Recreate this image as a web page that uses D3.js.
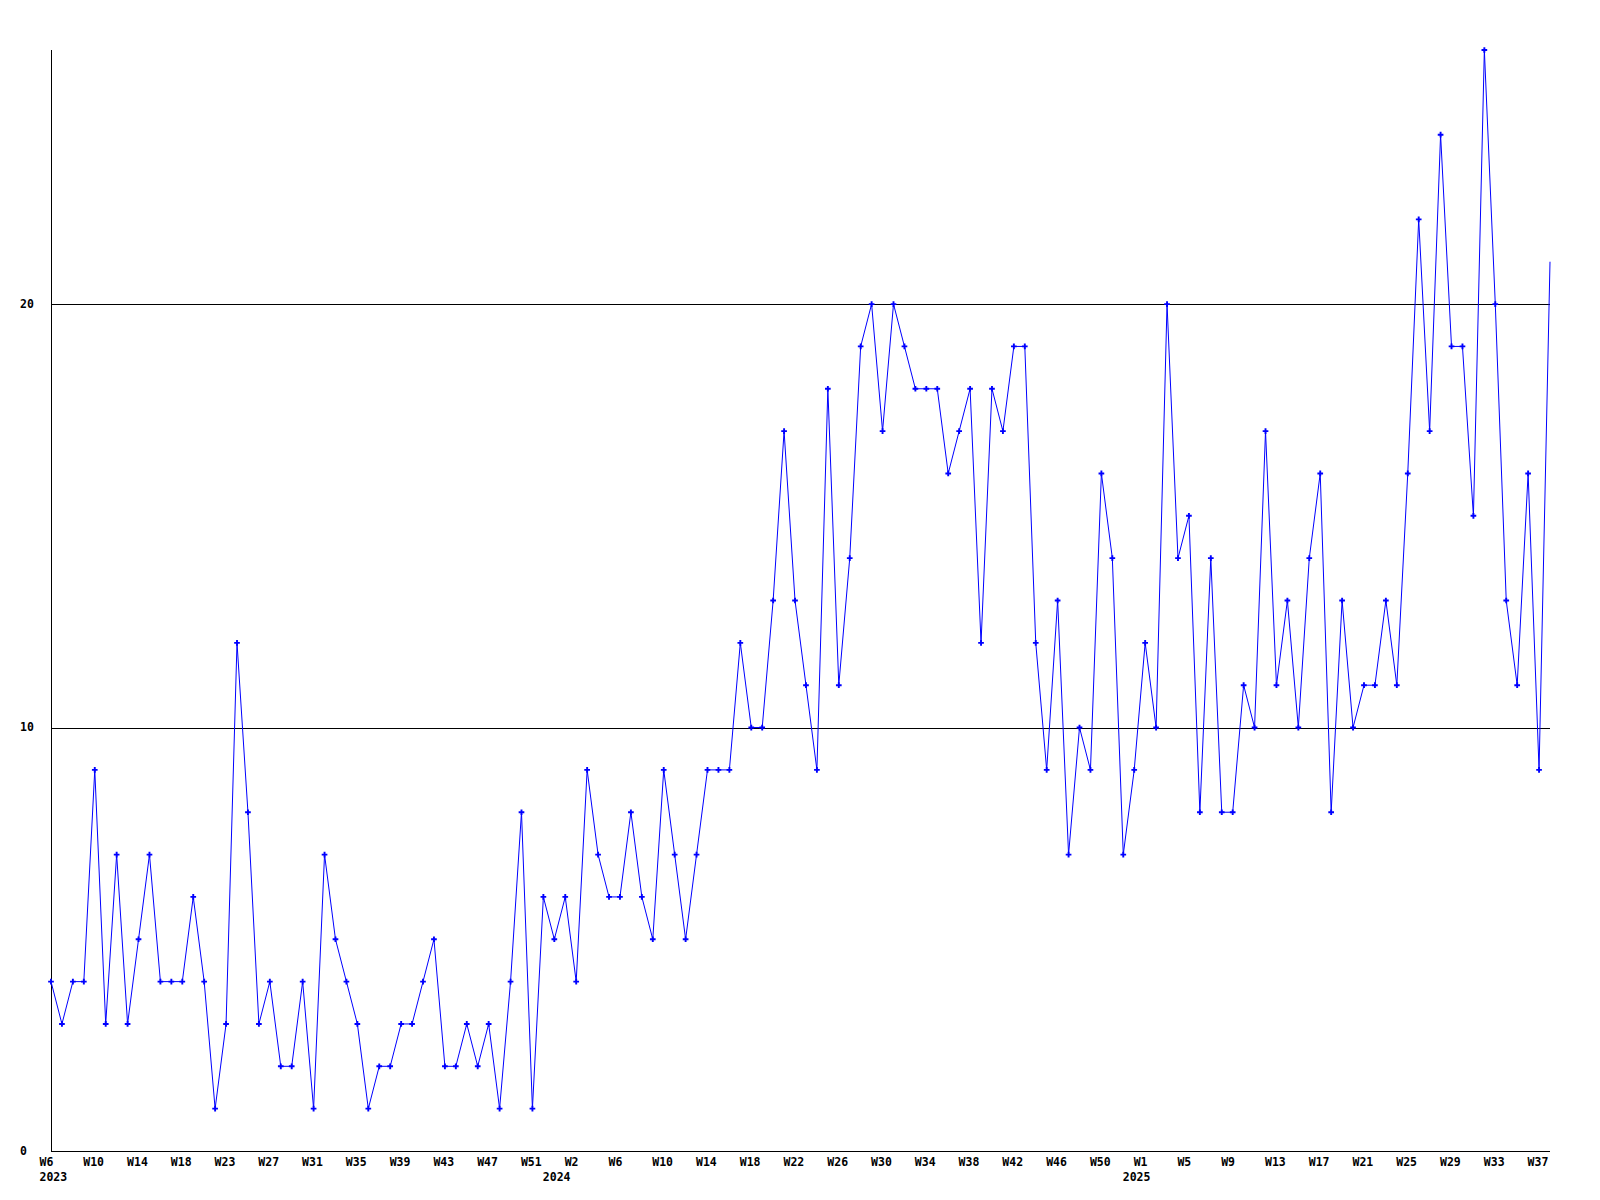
<!DOCTYPE html>
<html>
<head>
<meta charset="utf-8">
<script src="https://cdn.jsdelivr.net/npm/d3@7"></script>
<style>
  html, body { margin: 0; padding: 0; background: #ffffff; }
  svg { display: block; }
  text { font-family: "DejaVu Sans Mono", "Liberation Mono", monospace; font-weight: bold; font-size: 11.5px; fill: #000; }
</style>
</head>
<body>
<svg id="chart" width="1600" height="1200"></svg>
<script>
// Weekly values, one per week starting at W6 2023
const values = [
  4, 3, 4, 4, 9, 3, 7, 3, 5, 7,
  4, 4, 4, 6, 4, 1, 3, 12, 8, 3,
  4, 2, 2, 4, 1, 7, 5, 4, 3, 1,
  2, 2, 3, 3, 4, 5, 2, 2, 3, 2,
  3, 1, 4, 8, 1, 6, 5, 6, 4, 9,
  7, 6, 6, 8, 6, 5, 9, 7, 5, 7,
  9, 9, 9, 12, 10, 10, 13, 17, 13, 11,
  9, 18, 11, 14, 19, 20, 17, 20, 19, 18,
  18, 18, 16, 17, 18, 12, 18, 17, 19, 19,
  12, 9, 13, 7, 10, 9, 16, 14, 7, 9,
  12, 10, 20, 14, 15, 8, 14, 8, 8, 11,
  10, 17, 11, 13, 10, 14, 16, 8, 13, 10,
  11, 11, 13, 11, 16, 22, 17, 24, 19, 19,
  15, 26, 20, 13, 11, 16, 9, 21
];

// Week tick labels, shown every 4th week
const tickLabels = [
  "W6", "W10", "W14", "W18", "W23", "W27", "W31", "W35", "W39", "W43", "W47", "W51",
  "W2", "W6", "W10", "W14", "W18", "W22", "W26", "W30", "W34", "W38", "W42", "W46", "W50",
  "W1", "W5", "W9", "W13", "W17", "W21", "W25", "W29", "W33", "W37"
];
const tickStep = 4;

// Year labels and the week index they start at
const yearLabels = ["2023", "2024", "2025"];
const yearIndex = [0, 46, 99];

// Y axis labels / grid values
const yTicks = [0, 10, 20];
const yMax = 26;

const svg = d3.select("#chart");
const mLeft = 51, mRight = 1550, mTop = 50, mBottom = 1151;

const x = d3.scaleLinear().domain([0, values.length - 1]).range([mLeft, mRight]);
const y = d3.scaleLinear().domain([0, yMax]).range([mBottom, mTop]);

// grid lines (10, 20)
svg.append("g").selectAll("line")
  .data(yTicks.filter(d => d > 0))
  .join("line")
  .attr("x1", mLeft).attr("x2", mRight)
  .attr("y1", d => Math.round(y(d)) + 0.5).attr("y2", d => Math.round(y(d)) + 0.5)
  .attr("stroke", "#000").attr("stroke-width", 1)
  .attr("shape-rendering", "crispEdges");

// axes lines
svg.append("line")
  .attr("x1", mLeft + 0.5).attr("x2", mLeft + 0.5)
  .attr("y1", mTop).attr("y2", mBottom)
  .attr("stroke", "#000").attr("shape-rendering", "crispEdges");
svg.append("line")
  .attr("x1", mLeft).attr("x2", mRight)
  .attr("y1", Math.round(y(0)) + 0.5).attr("y2", Math.round(y(0)) + 0.5)
  .attr("stroke", "#000").attr("shape-rendering", "crispEdges");

// y labels
svg.append("g").selectAll("text")
  .data(yTicks)
  .join("text")
  .attr("x", 20)
  .attr("y", d => y(d) + 3.5)
  .text(d => d);

// x tick labels
svg.append("g").selectAll("text")
  .data(tickLabels)
  .join("text")
  .attr("x", (d, i) => x(i * tickStep) - 11.5)
  .attr("y", 1165.5)
  .text(d => d);

// year labels
svg.append("g").selectAll("text")
  .data(yearLabels)
  .join("text")
  .attr("x", (d, i) => x(yearIndex[i]) - 11.5)
  .attr("y", 1181)
  .text(d => d);

// data line
const line = d3.line().x((d, i) => x(i)).y(d => y(d));
svg.append("path")
  .datum(values)
  .attr("d", line)
  .attr("fill", "none")
  .attr("stroke", "#0000ff")
  .attr("stroke-width", 1);

// markers (last point sits on the plot edge and is not marked)
const sym = d3.symbol().type(d3.symbolCross).size(18);
svg.append("g").selectAll("path")
  .data(values.slice(0, values.length - 1))
  .join("path")
  .attr("transform", (d, i) => `translate(${x(i)},${y(d)})`)
  .attr("d", sym)
  .attr("fill", "#0000ff");
</script>
</body>
</html>
